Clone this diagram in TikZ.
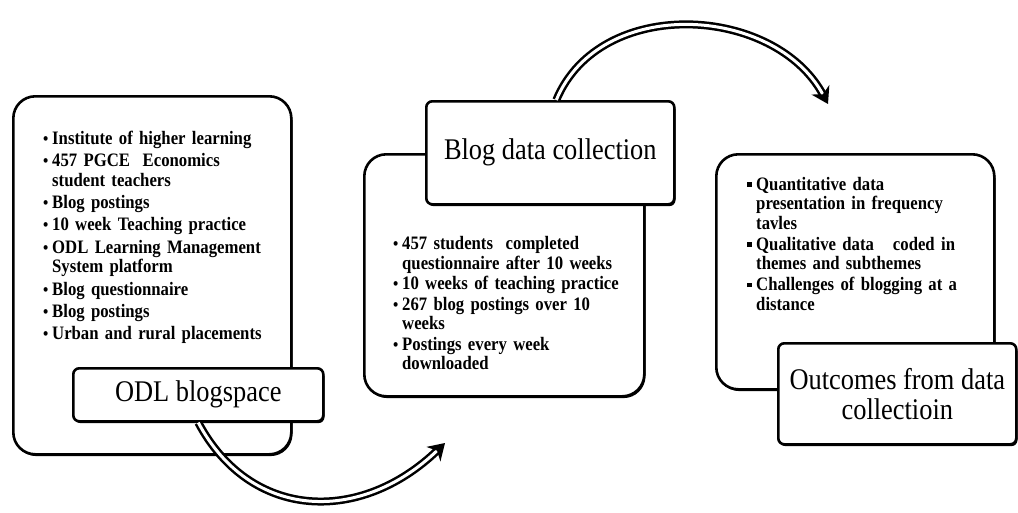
\documentclass[tikz,border=0pt]{standalone}
\usepackage{fontspec}
\setmainfont{Liberation Serif}[FakeStretch=0.88]
\usetikzlibrary{arrows.meta,shadows}

\newcommand{\dotitem}[1]{\par\hangindent=9pt\hangafter=1\noindent
  \makebox[9pt][l]{\fontsize{17}{17}\selectfont\textbullet}#1}
\newcommand{\sqitem}[1]{\par\hangindent=9pt\hangafter=1\noindent
  \makebox[9pt][l]{\rule[3.5pt]{4.5pt}{4.5pt}}#1}

\tikzset{
  panel/.style={draw, line width=2.6pt, rounded corners=22pt, fill=white,
    anchor=north west, inner sep=0pt,
    drop shadow={shadow xshift=1.2pt, shadow yshift=-1.8pt, opacity=1, fill=black}},
  tag/.style={draw, line width=2.6pt, rounded corners=6pt, fill=white,
    anchor=north west, inner sep=0pt, align=center,
    font=\fontsize{30}{30}\selectfont,
    drop shadow={shadow xshift=1.2pt, shadow yshift=-1.8pt, opacity=1, fill=black}},
  points/.style={anchor=north west, inner sep=0pt, text width=#1, align=left,
    font=\bfseries\fontsize{19}{19.5}\selectfont},
  flow/.style={double=white, double distance=3pt, line width=2.5pt,
    -{Stealth[length=16pt, width=20pt, inset=5pt]}}
}

\begin{document}
\begin{tikzpicture}[x=1pt, y=-1pt]
  \useasboundingbox (0,0) rectangle (1018,512);

  % first stage
  \node[panel, minimum width=278pt, minimum height=358pt] (space) at (12,95) {};
  \node[points=240pt] (spacelist) at (43,122) {\setlength{\parskip}{2.8pt}%
    \dotitem{Institute of higher learning}
    \dotitem{457 PGCE\ \ Economics\newline student teachers}
    \dotitem{Blog postings}
    \dotitem{10 week Teaching practice}
    \dotitem{ODL Learning Management\newline System platform}
    \dotitem{Blog questionnaire}
    \dotitem{Blog postings}
    \dotitem{Urban and rural placements}\par};
  \node[tag, minimum width=250pt, minimum height=53pt] (odl) at (72,367) {ODL blogspace};

  % second stage
  \node[panel, minimum width=280pt, minimum height=242pt] (collect) at (363,153) {};
  \node[points=240pt] (collectlist) at (393,229) {\setlength{\parskip}{1pt}%
    \dotitem{457 students\ \ completed\newline questionnaire after 10 weeks}
    \dotitem{10 weeks of teaching practice}
    \dotitem{267 blog postings over 10\newline weeks}
    \dotitem{Postings every week\newline downloaded}\par};
  \node[tag, minimum width=248pt, minimum height=103pt] (blog) at (425,100) {Blog data collection};

  % third stage
  \node[panel, minimum width=278pt, minimum height=235pt] (result) at (715,153) {};
  \node[points=240pt] (resultlist) at (747,169) {\setlength{\parskip}{1.5pt}%
    \sqitem{Quantitative data\newline presentation in frequency\newline tavles}
    \sqitem{Qualitative data\ \ \ coded in\newline themes and subthemes}
    \sqitem{Challenges of blogging at a\newline distance}\par};
  \node[tag, minimum width=238pt, minimum height=101pt] (outcome) at (777,342)
    {Outcomes from data\\collectioin};

  % arrows between stages
  \coordinate (tipa) at (445,443);
  \coordinate (tipb) at (828,104);
  \draw[flow] (odl.south) .. controls (250,520) and (360,525) .. (tipa);
  \draw[flow] ([xshift=6pt]blog.north) .. controls (600,-5) and (775,5) .. (tipb);
\end{tikzpicture}
\end{document}
